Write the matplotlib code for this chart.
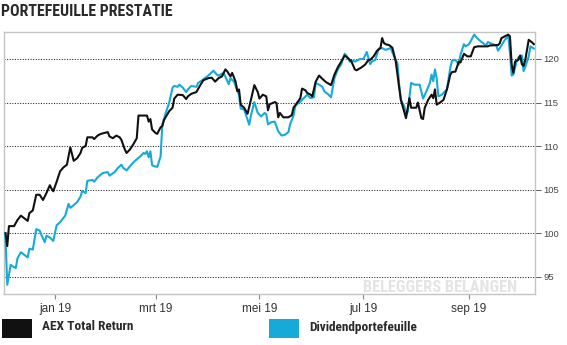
import numpy as np
import matplotlib
matplotlib.use("Agg")
import matplotlib.pyplot as plt
import matplotlib.dates as mdates
from matplotlib.patches import Rectangle

# index values, x = days counted from 1 January 2019
aex_days = [-29, -28, -27, -24, -23, -22, -20, -18, -16, -15, -13, -11, -9, -7, -5, -3, -2, -1,
            1, 3, 5, 7, 9, 11, 13, 15, 16, 18, 19, 22, 23, 25, 27, 31, 32, 34, 36, 38, 39, 41,
            42, 44, 46, 48, 49, 54, 55, 56, 57, 59, 60, 62, 63, 64, 67, 69, 70, 72, 75, 77,
            78, 80, 83, 85, 87, 90, 92, 94, 96, 98, 100, 101, 103, 104, 106, 107, 108, 109,
            111, 113, 115, 117, 119, 120, 122, 124, 125, 126, 129, 130, 131, 132, 134, 137,
            139, 140, 142, 144, 145, 147, 148, 150, 151, 153, 155, 157, 159, 162, 164, 166,
            168, 170, 172, 174, 176, 177, 180, 182, 184, 185, 187, 189, 191, 192, 193, 194,
            196, 198, 199, 200, 202, 203, 206, 208, 209, 212, 213, 215, 216, 217, 219, 221,
            222, 223, 224, 226, 228, 230, 232, 233, 235, 237, 238, 240, 242, 244, 246, 248,
            254, 255, 260, 261, 262, 266, 267, 268, 269, 270, 272, 273, 274, 275, 276, 278,
            280, 281]
aex_values = [100.0, 98.5, 100.8, 100.8, 101.15, 101.5, 102.0, 101.7, 101.4, 102.3, 102.6,
              104.4, 104.4, 103.8, 104.6, 105.5, 105.1, 104.8, 105.9, 107.1, 107.55, 107.85,
              109.85, 108.3, 108.6, 109.2, 109.8, 110.0, 111.0, 111.0, 110.8, 111.2, 111.4,
              111.6, 111.1, 110.9, 111.2, 111.0, 110.7, 109.6, 109.2, 109.6, 110.2, 110.9,
              113.5, 113.5, 112.8, 113.1, 111.9, 111.5, 111.4, 112.15, 112.3, 113.0, 114.0,
              114.4, 115.45, 115.9, 115.85, 115.4, 115.7, 116.0, 116.2, 116.9, 117.55, 117.8,
              117.85, 117.4, 117.8, 118.0, 118.8, 118.6, 118.0, 118.4, 117.4, 116.3, 116.5,
              114.75, 114.4, 113.7, 115.3, 117.0, 116.2, 115.45, 115.9, 115.7, 114.1, 114.8,
              115.05, 114.95, 113.3, 113.8, 113.3, 113.3, 113.55, 114.4, 114.95, 115.5, 116.6,
              116.4, 116.1, 115.9, 115.7, 117.4, 118.1, 117.7, 117.35, 117.0, 118.2, 119.05,
              119.7, 120.4, 120.1, 119.7, 118.8, 118.7, 119.05, 119.35, 119.9, 119.9, 120.3,
              120.95, 121.25, 122.4, 121.85, 121.7, 121.6, 121.3, 120.5, 119.7, 116.7, 115.3,
              113.2, 115.5, 114.4, 114.4, 115.0, 113.2, 113.1, 114.4, 115.3, 115.9, 115.5,
              116.5, 114.75, 115.0, 115.3, 116.5, 118.2, 118.5, 118.55, 119.7, 119.6, 120.6,
              120.3, 120.3, 121.35, 121.45, 121.45, 121.55, 121.6, 121.8, 122.4, 122.8, 122.6,
              119.35, 118.4, 119.7, 119.9, 120.4, 119.4, 119.2, 119.9, 122.2, 121.9, 121.7]

div_days = [-30, -29, -28, -26, -25, -23, -22, -20, -18, -16, -15, -13, -11, -9, -8, -6, -5,
            -3, -1, 1, 3, 6, 8, 9, 11, 13, 15, 16, 18, 19, 22, 23, 25, 28, 31, 32, 35, 37, 39,
            40, 42, 45, 47, 50, 52, 53, 54, 55, 56, 57, 58, 60, 62, 63, 65, 67, 69, 70, 72, 73,
            75, 77, 78, 80, 83, 84, 86, 88, 90, 93, 95, 96, 99, 102, 103, 105, 108, 109, 111,
            114, 115, 117, 119, 121, 123, 124, 125, 127, 129, 130, 131, 133, 135, 137, 138,
            140, 141, 142, 144, 146, 148, 150, 152, 153, 155, 157, 158, 160, 162, 164, 166,
            168, 170, 171, 173, 175, 176, 179, 181, 183, 185, 186, 188, 190, 192, 194, 197,
            199, 201, 202, 203, 205, 206, 207, 209, 211, 214, 216, 218, 220, 221, 222, 223,
            224, 225, 227, 230, 232, 233, 235, 237, 238, 240, 241, 243, 246, 248, 250, 253,
            254, 257, 259, 260, 262, 264, 266, 267, 268, 269, 271, 272, 274, 275, 276, 278,
            279, 281]
div_values = [99.9, 99.4, 94.06, 96.35, 96.2, 95.98, 97.1, 97.8, 97.5, 97.2, 98.2, 98.1,
              100.45, 100.3, 99.8, 98.95, 99.7, 99.5, 99.1, 100.9, 101.25, 102.0, 103.35,
              102.9, 103.2, 103.55, 104.2, 104.85, 104.6, 106.0, 106.1, 105.9, 106.4, 106.9,
              107.0, 106.6, 107.0, 107.5, 107.85, 107.5, 107.2, 107.9, 108.3, 108.8, 109.2,
              109.1, 109.4, 108.7, 109.4, 107.8, 107.7, 107.6, 108.8, 112.45, 113.8, 114.95,
              116.7, 116.9, 116.8, 117.05, 116.7, 116.2, 116.5, 116.9, 116.8, 117.25, 117.5,
              117.8, 118.1, 118.65, 118.2, 118.1, 118.4, 117.1, 117.8, 117.4, 115.9, 114.3,
              114.2, 112.45, 113.5, 115.05, 113.8, 113.4, 113.8, 113.65, 112.5, 112.75, 112.8,
              112.25, 111.7, 111.2, 111.3, 111.6, 112.5, 113.5, 114.55, 114.8, 115.1, 115.5,
              115.9, 115.5, 115.6, 117.25, 117.05, 116.8, 116.3, 116.0, 115.6, 117.8, 118.8,
              119.4, 120.6, 120.4, 119.7, 119.8, 119.7, 120.0, 120.0, 120.8, 119.4, 119.7,
              119.9, 121.2, 121.25, 121.05, 121.25, 120.3, 119.5, 117.05, 115.3, 114.55, 113.6,
              113.9, 117.25, 117.05, 117.05, 115.45, 116.3, 117.25, 118.2, 117.45, 118.8, 117.8,
              115.7, 115.9, 116.5, 119.0, 119.8, 119.9, 119.35, 120.5, 121.7, 121.45, 121.7,
              122.8, 122.35, 122.0, 121.55, 121.95, 121.7, 121.55, 120.95, 121.55, 122.2, 122.6,
              120.7, 118.1, 118.2, 119.8, 120.2, 120.4, 118.6, 119.1, 120.3, 121.45, 121.2]

month_ticks = ["2019-01-01", "2019-03-01", "2019-05-01", "2019-07-01", "2019-09-01"]
month_labels = ["jan 19", "mrt 19", "mei 19", "jul 19", "sep 19"]
y_ticks = [95, 100, 105, 110, 115, 120]

BLACK = "#111111"
BLUE = "#16aad9"
narrow = ["Roboto Condensed", "DejaVu Sans"]
plain = ["Liberation Sans", "DejaVu Sans"]
W, H = 567, 345

start = np.datetime64("2019-01-01")
aex_dates = start + np.array(aex_days, dtype="timedelta64[D]")
div_dates = start + np.array(div_days, dtype="timedelta64[D]")

fig = plt.figure(figsize=(W / 100, H / 100), dpi=100)
ax = fig.add_axes([3.5 / W, 1 - 294 / H, 531.5 / W, 262 / H])

ax.plot(div_dates, div_values, color=BLUE, lw=1.5, zorder=3)
ax.plot(aex_dates, aex_values, color=BLACK, lw=1.5, zorder=4)

t0 = mdates.date2num(start)
ax.set_xlim(t0 - 30.2, t0 + 281.7)
ax.set_ylim(93.0, 123.1)

ax.set_xticks(mdates.date2num(np.array(month_ticks, dtype="datetime64[D]")))
ax.set_xticklabels(month_labels, family=plain, fontsize=8.5, color="#333333")
ax.set_yticks(y_ticks)
ax.set_yticklabels([str(v) for v in y_ticks], family=plain, fontsize=6.8, color="#444444")
ax.yaxis.tick_right()
ax.tick_params(axis="y", length=4, width=0.6, color="#444444", pad=2)
ax.tick_params(axis="x", length=3.5, width=0.8, color="#888888", pad=3)

ax.grid(axis="y", color="#222222", lw=0.75, ls=(0, (1, 1.5)))
ax.set_axisbelow(True)
for side in ["left", "right", "top", "bottom"]:
    ax.spines[side].set_color("#c4c4c4")
    ax.spines[side].set_linewidth(1.0)

# publisher mark in the lower right corner of the plot
fig.text(363 / W, 1 - 287 / H, "BELEGGERS BELANGEN", family=narrow, fontweight="bold",
         fontsize=11.8, color="#e4e4e4", va="center", ha="left", zorder=1)

fig.text(1 / W, 1 - 12 / H, "PORTEFEUILLE PRESTATIE", family=narrow, fontweight="bold",
         fontsize=11.4, color="#2a2a2a", va="center", ha="left")

# legend swatches and labels
for x0, color, label in [(2, BLACK, "AEX Total Return"), (269, BLUE, "Dividendportefeuille")]:
    fig.add_artist(Rectangle((x0 / W, 1 - 338 / H), 30 / W, 19 / H,
                             transform=fig.transFigure, color=color, lw=0))
    fig.text((x0 + 40) / W, 1 - 327 / H, label, family=narrow, fontweight="bold",
             fontsize=9.6, color="#2a2a2a", va="center", ha="left")

fig.savefig("out.png", dpi=100)
